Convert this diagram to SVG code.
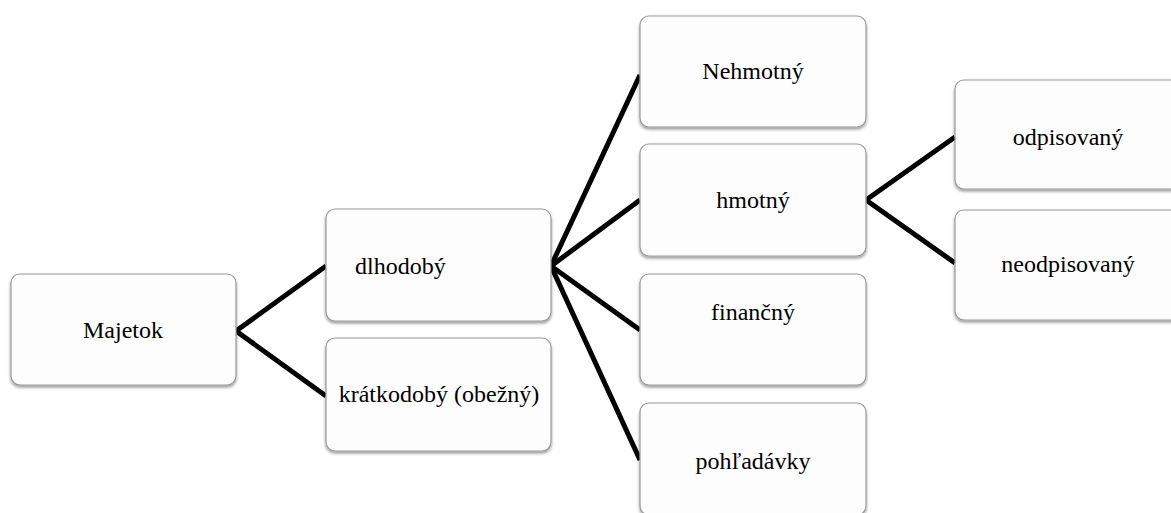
<svg xmlns="http://www.w3.org/2000/svg" width="1171" height="513" viewBox="0 0 1171 513">
<defs>
<filter id="sh" x="-10%" y="-10%" width="120%" height="130%">
<feDropShadow dx="0" dy="2" stdDeviation="1.5" flood-color="#000" flood-opacity="0.4"/>
</filter>
<style>
.box{fill:#fdfdfd;stroke:#999;stroke-width:1.2;filter:url(#sh)}
.c line{stroke:#000;stroke-width:5;stroke-linecap:butt}
</style>
</defs>
<rect width="1171" height="513" fill="#fff"/>
<g class="c" id="connectors">
<line x1="236" y1="331" x2="326" y2="266"/>
<line x1="236" y1="331" x2="326" y2="396"/>
<line x1="551" y1="266" x2="640" y2="75"/>
<line x1="551" y1="266" x2="640" y2="200"/>
<line x1="551" y1="266" x2="640" y2="330"/>
<line x1="551" y1="266" x2="640" y2="460"/>
<line x1="866" y1="200" x2="955" y2="137"/>
<line x1="866" y1="200" x2="955" y2="263"/>
</g>
<g font-family="Liberation Serif, DejaVu Serif, serif" font-size="24" fill="#000" text-anchor="middle">
<g id="majetok"><rect class="box" x="11" y="274" width="225" height="111" rx="9"/><text x="123" y="338">Majetok</text></g>
<g id="dlhodoby"><rect class="box" x="326" y="209" width="225" height="112" rx="9"/><text x="355" y="274" text-anchor="start">dlhodobý</text></g>
<g id="kratkodoby"><rect class="box" x="326" y="338" width="225" height="113" rx="9"/><text x="439" y="402">krátkodobý (obežný)</text></g>
<g id="nehmotny"><rect class="box" x="640" y="16" width="226" height="111" rx="9"/><text x="753" y="79">Nehmotný</text></g>
<g id="hmotny"><rect class="box" x="640" y="144" width="226" height="112" rx="9"/><text x="753" y="208">hmotný</text></g>
<g id="financny"><rect class="box" x="640" y="274" width="226" height="111" rx="9"/><text x="753" y="320">finančný</text></g>
<g id="pohladavky"><rect class="box" x="640" y="403" width="226" height="112" rx="9"/><text x="753" y="469">pohľadávky</text></g>
<g id="odpisovany"><rect class="box" x="955" y="80" width="226" height="109" rx="9"/><text x="1068" y="145">odpisovaný</text></g>
<g id="neodpisovany"><rect class="box" x="955" y="210" width="226" height="110" rx="9"/><text x="1068" y="272">neodpisovaný</text></g>
</g>
</svg>
